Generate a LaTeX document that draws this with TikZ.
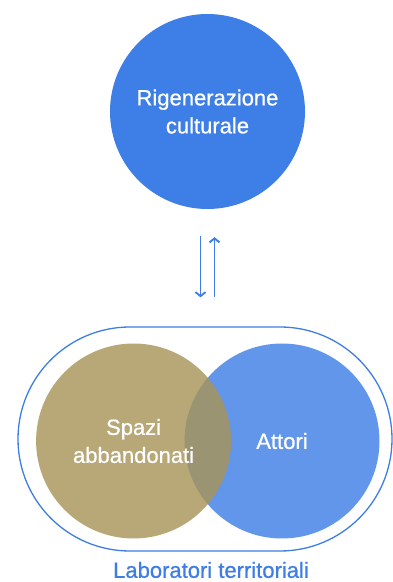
\documentclass[tikz,border=0pt]{standalone}
\usepackage{fontspec}
\setmainfont{Liberation Sans}[FakeBold=0.7]
\usepackage{tikz}
\usetikzlibrary{positioning,arrows.meta}
\definecolor{rigblue}{RGB}{61,127,230}
\definecolor{attblue}{RGB}{98,150,235}
\definecolor{spatan}{RGB}{167,148,88}
\definecolor{labline}{RGB}{61,125,228}

\begin{document}
\begin{tikzpicture}[x=1pt, y=1pt,
    >={Straight Barb[length=4pt,width=10pt]},
    bubble/.style={circle, minimum size=195pt, inner sep=0pt, align=center,
                   text=white, font=\fontsize{22}{28}\selectfont},
    frame/.style={draw=labline, line width=1.3pt, rounded corners=112pt,
                  minimum width=374pt, minimum height=224pt}]
    \useasboundingbox (0,0) rectangle (393,582);
    \node[bubble, fill=rigblue] (rig) at (207.5,470.5) {Rigenerazione\\culturale};
    \node[frame] (lab) at (205,143) {};
    \node[bubble, fill=attblue] (att) at (282,141) {Attori};
    \node[bubble, fill=spatan, fill opacity=0.81, text opacity=1,
          left=-47pt of att] (spa) {Spazi\\abbandonati};
    \node[below=10pt of lab, xshift=6pt, inner sep=0pt, text=labline,
          font=\fontsize{22}{28}\selectfont] (name) {Laboratori territoriali};
    \draw[line width=1.9pt, draw=labline]
          ([xshift=-7pt]rig.south) edge[->, shorten <=27pt, shorten >=29pt] ([xshift=-7pt]rig.south |- lab.north)
          ([xshift=7pt]rig.south |- lab.north) edge[->, shorten <=29pt, shorten >=28pt] ([xshift=7pt]rig.south);
  \end{tikzpicture}
\end{document}
